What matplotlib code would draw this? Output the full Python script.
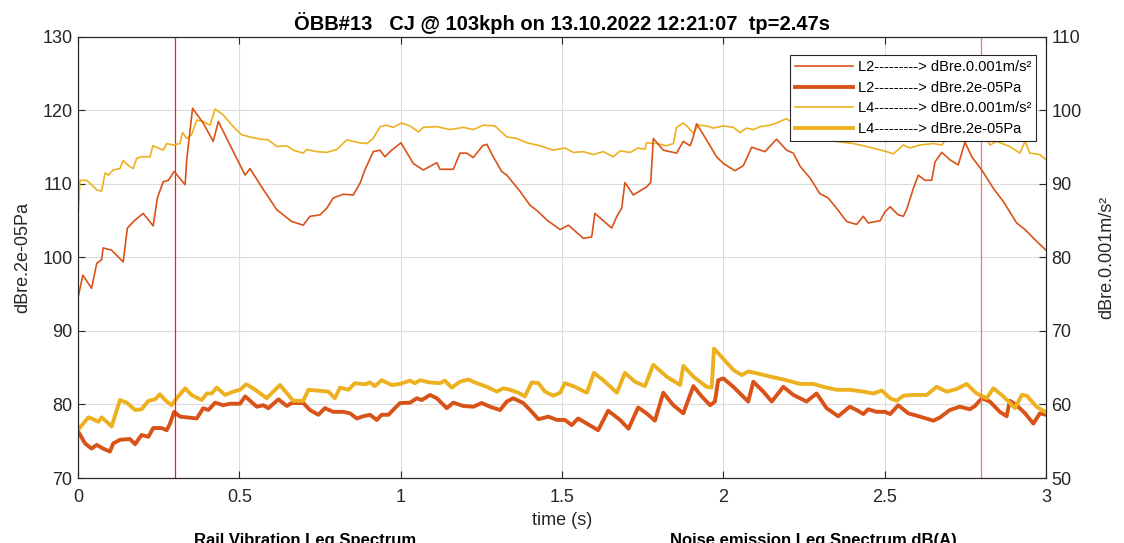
import numpy as np
import matplotlib
matplotlib.use("Agg")
import matplotlib.pyplot as plt
from matplotlib.ticker import MultipleLocator

plt.rcParams["font.family"] = ["Liberation Sans", "DejaVu Sans"]

TITLE = "ÖBB#13   CJ @ 103kph on 13.10.2022 12:21:07  tp=2.47s"
MARKERS_T = [0.30, 2.80]

# L2 acceleration level (right axis, dBre.0.001m/s²)
t_l2_acc = [0.001, 0.015, 0.042, 0.058, 0.073, 0.078, 0.104, 0.140, 0.153, 0.177,
            0.202, 0.233, 0.246, 0.264, 0.280, 0.298, 0.332, 0.337, 0.345, 0.355,
            0.388, 0.419, 0.435, 0.471, 0.518, 0.533, 0.569, 0.616, 0.662, 0.698,
            0.719, 0.750, 0.771, 0.791, 0.822, 0.853, 0.874, 0.889, 0.915, 0.936,
            0.951, 0.972, 1.001, 1.039, 1.070, 1.112, 1.122, 1.163, 1.184, 1.205,
            1.225, 1.254, 1.267, 1.287, 1.313, 1.329, 1.370, 1.401, 1.422, 1.453,
            1.494, 1.520, 1.566, 1.592, 1.602, 1.654, 1.670, 1.685, 1.695, 1.721,
            1.762, 1.775, 1.783, 1.814, 1.855, 1.876, 1.897, 1.907, 1.917, 1.948,
            1.979, 2.000, 2.036, 2.062, 2.088, 2.129, 2.165, 2.196, 2.217, 2.238,
            2.269, 2.299, 2.325, 2.351, 2.382, 2.413, 2.434, 2.449, 2.486, 2.501,
            2.517, 2.542, 2.558, 2.568, 2.589, 2.604, 2.625, 2.646, 2.656, 2.677,
            2.702, 2.728, 2.749, 2.770, 2.801, 2.837, 2.868, 2.909, 2.935, 2.971,
            3.000]
l2_acc = [74.7, 77.6, 75.8, 79.2, 79.7, 81.3, 81.0, 79.4, 84.0, 85.1,
          86.0, 84.3, 88.1, 90.3, 90.5, 91.7, 89.9, 93.3, 96.4, 100.3,
          98.3, 95.8, 98.5, 95.3, 91.2, 92.1, 89.6, 86.5, 84.9, 84.4,
          85.6, 85.8, 86.7, 88.1, 88.6, 88.5, 90.1, 91.9, 94.4, 94.6,
          93.7, 94.6, 95.6, 92.8, 91.9, 92.9, 92.0, 92.0, 94.2, 94.2,
          93.6, 95.2, 95.4, 93.7, 91.7, 91.2, 89.0, 87.1, 86.4, 85.1,
          83.8, 84.4, 82.6, 82.8, 86.0, 84.0, 85.6, 86.7, 90.2, 88.5,
          89.6, 90.2, 96.2, 94.6, 94.2, 95.8, 95.2, 96.4, 98.2, 96.0,
          93.7, 92.8, 91.8, 92.5, 95.0, 94.4, 96.1, 94.6, 94.2, 92.4,
          90.8, 88.7, 88.1, 86.7, 84.9, 84.5, 85.6, 84.7, 85.0, 86.2,
          86.9, 85.8, 85.6, 86.5, 89.4, 91.2, 90.5, 90.5, 93.0, 94.3,
          93.3, 92.6, 95.7, 93.7, 91.9, 89.4, 87.6, 84.7, 83.8, 82.2,
          81.0]

# L4 acceleration level (right axis, dBre.0.001m/s²)
t_l4_acc = [0.001, 0.006, 0.027, 0.042, 0.058, 0.073, 0.084, 0.094, 0.109, 0.130,
            0.140, 0.156, 0.171, 0.182, 0.197, 0.223, 0.232, 0.249, 0.264, 0.275,
            0.295, 0.316, 0.324, 0.337, 0.352, 0.368, 0.388, 0.409, 0.425, 0.450,
            0.481, 0.507, 0.533, 0.564, 0.590, 0.616, 0.647, 0.667, 0.698, 0.709,
            0.740, 0.771, 0.802, 0.833, 0.853, 0.874, 0.895, 0.915, 0.936, 0.957,
            0.977, 1.003, 1.029, 1.055, 1.070, 1.112, 1.153, 1.194, 1.225, 1.256,
            1.292, 1.329, 1.360, 1.391, 1.432, 1.473, 1.509, 1.535, 1.566, 1.597,
            1.628, 1.659, 1.680, 1.711, 1.736, 1.757, 1.762, 1.793, 1.824, 1.845,
            1.855, 1.876, 1.891, 1.907, 1.922, 1.948, 1.969, 2.000, 2.031, 2.052,
            2.072, 2.093, 2.114, 2.145, 2.165, 2.196, 2.238, 2.279, 2.310, 2.403,
            2.444, 2.506, 2.527, 2.558, 2.578, 2.609, 2.651, 2.677, 2.692, 2.733,
            2.780, 2.816, 2.826, 2.847, 2.888, 2.919, 2.935, 2.950, 2.981, 3.000]
l4_acc = [86.2, 90.5, 90.5, 89.9, 89.2, 89.0, 91.5, 91.2, 91.9, 92.1,
          93.2, 92.5, 92.1, 93.5, 93.7, 93.7, 95.2, 94.9, 94.6, 95.5,
          95.3, 95.5, 97.0, 96.2, 96.7, 98.7, 98.5, 98.0, 100.2, 99.4,
          97.8, 96.7, 96.4, 96.1, 96.0, 95.1, 95.2, 94.6, 94.2, 94.7,
          94.4, 94.3, 94.7, 96.0, 95.8, 95.6, 95.5, 96.2, 97.8, 98.0,
          97.7, 98.3, 97.9, 97.1, 97.7, 97.8, 97.4, 97.7, 97.4, 98.0,
          97.9, 96.4, 96.2, 95.6, 95.2, 94.6, 94.9, 94.3, 94.4, 94.0,
          94.4, 93.7, 94.5, 94.3, 94.9, 94.7, 95.6, 95.5, 95.2, 95.5,
          97.7, 98.3, 97.7, 96.9, 98.0, 97.9, 97.6, 97.9, 97.7, 97.0,
          97.6, 97.4, 97.8, 98.0, 98.3, 98.9, 97.5, 96.5, 96.0, 95.5,
          95.1, 94.4, 94.1, 95.3, 94.9, 95.3, 95.5, 95.3, 96.2, 96.8,
          96.5, 96.2, 95.3, 95.8, 95.1, 94.2, 95.8, 94.2, 94.0, 93.3]

# L2 sound pressure level (left axis, dBre.2e-05Pa)
t_l2_pa = [0.001, 0.022, 0.042, 0.058, 0.078, 0.099, 0.109, 0.130, 0.161, 0.177,
           0.197, 0.218, 0.233, 0.259, 0.275, 0.285, 0.298, 0.316, 0.368, 0.388,
           0.404, 0.425, 0.450, 0.471, 0.502, 0.518, 0.554, 0.574, 0.590, 0.621,
           0.647, 0.662, 0.698, 0.719, 0.745, 0.765, 0.791, 0.822, 0.843, 0.864,
           0.884, 0.905, 0.926, 0.941, 0.962, 0.982, 0.998, 1.029, 1.050, 1.065,
           1.091, 1.112, 1.143, 1.163, 1.194, 1.225, 1.251, 1.277, 1.308, 1.329,
           1.349, 1.380, 1.401, 1.427, 1.458, 1.484, 1.509, 1.530, 1.550, 1.577,
           1.612, 1.643, 1.680, 1.706, 1.736, 1.762, 1.788, 1.814, 1.845, 1.876,
           1.907, 1.933, 1.959, 1.974, 1.984, 2.000, 2.031, 2.077, 2.093, 2.124,
           2.150, 2.186, 2.217, 2.258, 2.289, 2.320, 2.356, 2.392, 2.413, 2.434,
           2.449, 2.475, 2.501, 2.517, 2.542, 2.573, 2.609, 2.651, 2.672, 2.702,
           2.733, 2.764, 2.780, 2.801, 2.826, 2.857, 2.878, 2.888, 2.909, 2.935,
           2.961, 2.981, 3.000]
l2_pa = [76.3, 74.7, 74.0, 74.5, 74.0, 73.6, 74.7, 75.2, 75.3, 74.6,
         75.85, 75.6, 76.8, 76.8, 76.5, 77.4, 79.0, 78.35, 78.1, 79.5,
         79.25, 80.25, 79.9, 80.1, 80.1, 81.1, 79.7, 79.9, 79.5, 80.7,
         79.8, 80.2, 80.2, 79.25, 78.6, 79.5, 79.0, 79.0, 78.8, 78.1,
         78.4, 78.6, 77.9, 78.6, 78.6, 79.5, 80.2, 80.25, 80.85, 80.6,
         81.3, 80.85, 79.5, 80.25, 79.8, 79.7, 80.2, 79.7, 79.25, 80.4,
         80.85, 80.2, 79.25, 78.0, 78.35, 77.9, 77.9, 77.2, 78.1, 77.4,
         76.5, 79.15, 77.9, 76.7, 79.6, 78.8, 77.8, 81.6, 79.9, 78.8,
         82.5, 81.1, 79.9, 80.4, 83.3, 83.55, 82.4, 80.4, 83.1, 81.75,
         80.4, 82.4, 81.3, 80.4, 81.5, 79.5, 78.4, 79.7, 79.25, 78.7,
         79.35, 79.0, 79.0, 78.7, 79.9, 78.8, 78.35, 77.8, 78.25, 79.25,
         79.7, 79.35, 79.8, 80.85, 80.4, 79.0, 78.4, 80.5, 79.9, 78.8,
         77.4, 78.8, 78.6]

# L4 sound pressure level (left axis, dBre.2e-05Pa)
t_l4_pa = [0.001, 0.016, 0.032, 0.047, 0.063, 0.073, 0.089, 0.104, 0.130, 0.151,
           0.177, 0.197, 0.218, 0.239, 0.254, 0.270, 0.290, 0.306, 0.332, 0.352,
           0.383, 0.399, 0.414, 0.430, 0.456, 0.481, 0.502, 0.521, 0.543, 0.585,
           0.605, 0.626, 0.667, 0.698, 0.714, 0.740, 0.776, 0.796, 0.812, 0.838,
           0.858, 0.889, 0.905, 0.920, 0.941, 0.972, 0.998, 1.029, 1.044, 1.060,
           1.091, 1.122, 1.137, 1.158, 1.184, 1.210, 1.230, 1.267, 1.298, 1.318,
           1.339, 1.365, 1.385, 1.406, 1.427, 1.447, 1.473, 1.494, 1.509, 1.535,
           1.577, 1.599, 1.628, 1.670, 1.695, 1.726, 1.757, 1.783, 1.824, 1.866,
           1.876, 1.907, 1.948, 1.964, 1.971, 1.990, 2.031, 2.057, 2.077, 2.103,
           2.145, 2.196, 2.238, 2.279, 2.310, 2.351, 2.392, 2.434, 2.465, 2.491,
           2.517, 2.537, 2.558, 2.589, 2.630, 2.661, 2.692, 2.723, 2.754, 2.785,
           2.816, 2.837, 2.868, 2.904, 2.925, 2.940, 2.971, 2.997]
l4_pa = [76.6, 77.4, 78.25, 78.0, 77.65, 78.25, 77.65, 77.0, 80.6, 80.25,
         79.25, 79.35, 80.5, 80.7, 81.4, 80.6, 79.9, 80.85, 82.2, 81.3,
         80.6, 81.5, 81.5, 82.3, 81.3, 81.75, 82.0, 82.75, 82.2, 80.85,
         81.75, 82.65, 80.5, 80.5, 82.0, 81.9, 81.75, 80.85, 82.3, 82.0,
         82.9, 82.75, 83.0, 82.5, 83.3, 82.65, 82.8, 83.25, 82.9, 83.3,
         83.0, 82.9, 83.25, 82.3, 83.1, 83.4, 83.0, 82.4, 81.75, 82.2,
         82.0, 81.6, 81.1, 83.0, 82.9, 81.75, 81.2, 81.6, 82.9, 82.5,
         81.6, 84.3, 83.3, 81.6, 84.3, 83.1, 82.5, 85.4, 83.8, 82.65,
         85.25, 83.8, 82.4, 82.3, 87.6, 86.7, 84.7, 84.0, 84.5, 84.25,
         83.8, 83.3, 82.8, 82.8, 82.4, 82.0, 82.0, 81.75, 81.5, 81.9,
         80.85, 80.5, 81.2, 81.3, 81.3, 82.4, 81.75, 82.1, 82.8, 81.5,
         80.85, 82.2, 81.1, 79.5, 81.3, 81.2, 79.7, 79.0]

ORANGE = "#D95319"
YELLOW = "#EDB120"
DASHES = "---------> "

fig = plt.figure(figsize=(11.24, 5.43), dpi=100)
ax = fig.add_axes([0.0694, 0.1197, 0.8612, 0.8122])
ax2 = ax.twinx()

h_l2_pa, = ax.plot(t_l2_pa, l2_pa, color=ORANGE, linewidth=2.8,
                   label="L2" + DASHES + "dBre.2e-05Pa")
h_l4_pa, = ax.plot(t_l4_pa, l4_pa, color=YELLOW, linewidth=2.8,
                   label="L4" + DASHES + "dBre.2e-05Pa")
h_l4_acc, = ax2.plot(t_l4_acc, l4_acc, color=YELLOW, linewidth=1.2,
                     label="L4" + DASHES + "dBre.0.001m/s²")
h_l2_acc, = ax2.plot(t_l2_acc, l2_acc, color=ORANGE, linewidth=1.2,
                     label="L2" + DASHES + "dBre.0.001m/s²")

ax.axvline(MARKERS_T[0], color="#ff1a1a", linewidth=0.9)
ax.axvline(MARKERS_T[1], color="#ff7070", linewidth=0.9)

ax.set_xlim(0, 3)
ax.set_ylim(70, 130)
ax2.set_ylim(50, 110)
ax.yaxis.set_major_locator(MultipleLocator(10))
ax2.yaxis.set_major_locator(MultipleLocator(10))
ax.set_xticks([0, 0.5, 1, 1.5, 2, 2.5, 3])
ax.set_xticklabels(["0", "0.5", "1", "1.5", "2", "2.5", "3"])

ax.grid(True, color="#dcdcdc", linewidth=0.8)
ax.set_axisbelow(True)

for a in (ax, ax2):
    a.tick_params(direction="in", length=5, width=0.8, colors="#262626",
                  labelsize=13, labelcolor="#262626")
    for s in a.spines.values():
        s.set_color("#262626")
        s.set_linewidth(0.8)
ax.tick_params(axis="x", top=True, pad=8)
ax.tick_params(axis="y", pad=4)
ax2.tick_params(axis="y", pad=4)

ax.set_xlabel("time (s)", fontsize=13, color="#262626", labelpad=4)
ax.set_ylabel("dBre.2e-05Pa", fontsize=13, color="#262626", labelpad=8)
ax2.set_ylabel("dBre.0.001m/s²", fontsize=13, color="#262626", labelpad=12)
ax.set_title(TITLE, fontsize=14.5, fontweight="bold", color="black", pad=5)

leg = ax2.legend(handles=[h_l2_acc, h_l2_pa, h_l4_acc, h_l4_pa],
                 loc="upper right", bbox_to_anchor=(0.9897, 0.959),
                 fontsize=10.5, frameon=True, fancybox=False, framealpha=1,
                 edgecolor="#262626", handlelength=4.0, borderpad=0.35,
                 labelspacing=0.45, handletextpad=0.3, borderaxespad=0)
leg.get_frame().set_linewidth(0.8)

fig.text(0.271, 0.018, "Rail Vibration Leq Spectrum", fontsize=12,
         fontweight="bold", ha="center", va="top")
fig.text(0.724, 0.018, "Noise emission Leq Spectrum dB(A)", fontsize=12,
         fontweight="bold", ha="center", va="top")

fig.savefig("out.png", dpi=100)
